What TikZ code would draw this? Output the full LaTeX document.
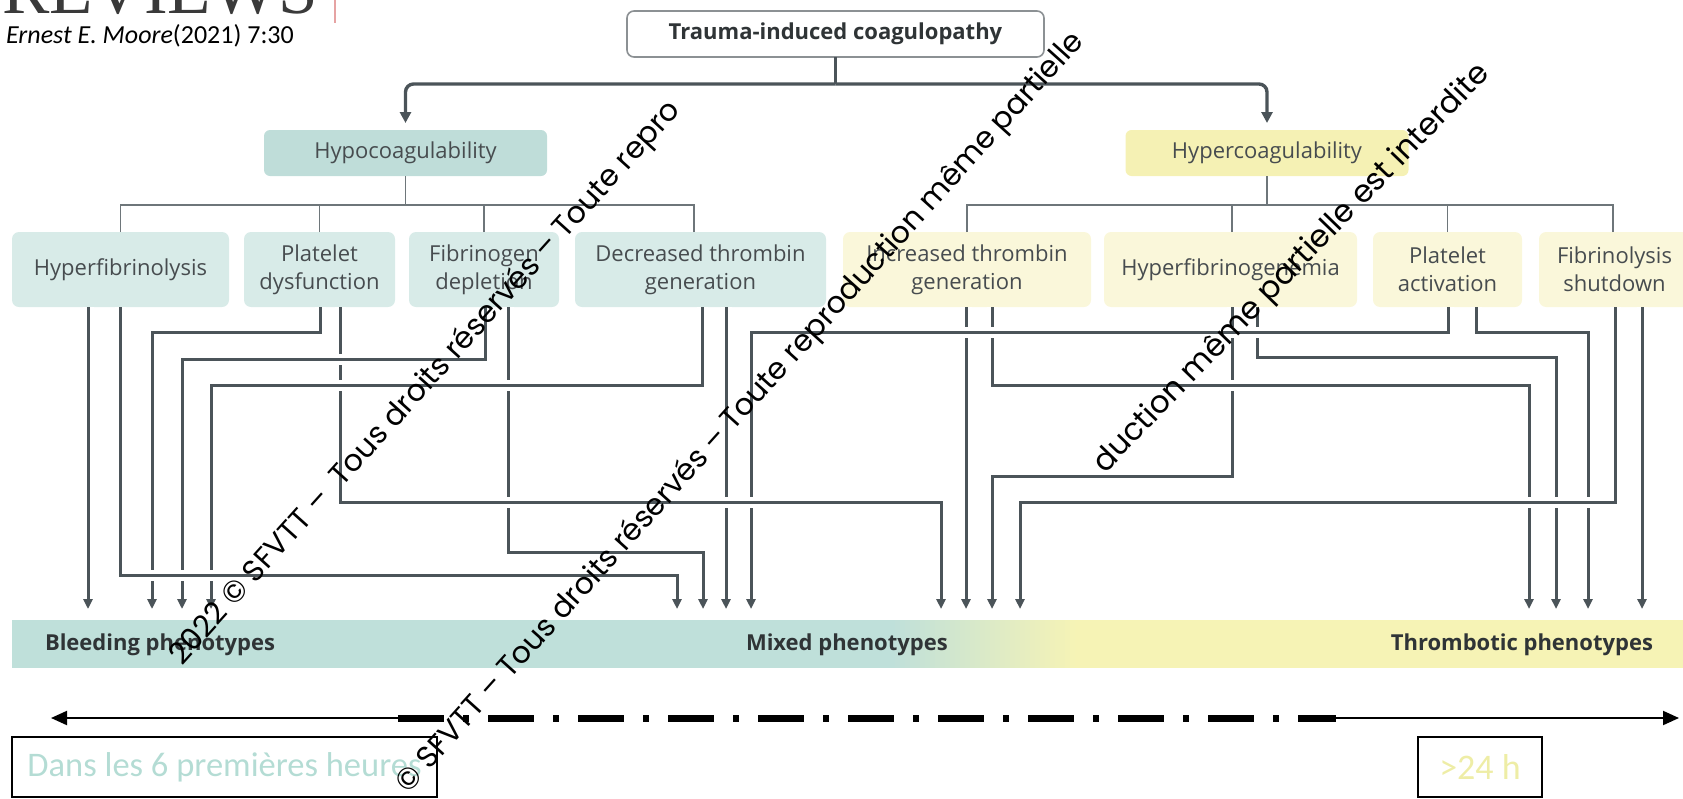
\documentclass[tikz,border=0pt]{standalone}
\usepackage{fontspec}
\setmainfont{Open Sans}
\newfontfamily\calfont{Carlito}
\newfontfamily\wmfont{Poppins}
\newfontfamily\mastfont{Liberation Serif}
\usetikzlibrary{arrows.meta}

\definecolor{ink}{HTML}{4B5459}
\definecolor{treegray}{HTML}{6E767A}
\definecolor{framegray}{HTML}{8C9194}
\definecolor{tealbox}{HTML}{BFDDD9}
\definecolor{teallight}{HTML}{D8EBE8}
\definecolor{yelbox}{HTML}{F5F1B4}
\definecolor{yellight}{HTML}{FAF7DA}
\definecolor{bandteal}{HTML}{BFE0DA}
\definecolor{bandyel}{HTML}{F6F3B5}
\definecolor{boxtext}{HTML}{474C4F}
\definecolor{headtext}{HTML}{2F3436}
\definecolor{earlytext}{HTML}{B4DCD4}
\definecolor{latetext}{HTML}{EEEDA6}
\definecolor{mastgray}{HTML}{3A3A3A}
\definecolor{mastpink}{HTML}{E6A3A3}

\begin{document}
\begin{tikzpicture}[x=1pt,y=-1pt,
  every node/.style={inner sep=0pt,outer sep=0pt},
  titlebox/.style={draw=framegray,line width=1.6pt,fill=white,rounded corners=7pt,
    minimum width=417pt,minimum height=46pt,
    font=\bfseries\fontsize{22}{26}\selectfont,text=headtext},
  groupbox/.style={rounded corners=6pt,minimum width=283pt,minimum height=46pt,
    font=\fontsize{22}{26}\selectfont,text=boxtext},
  hypostyle/.style={groupbox,fill=tealbox},
  hyperstyle/.style={groupbox,fill=yelbox},
  mechbox/.style={rounded corners=7pt,minimum height=75pt,align=center,
    font=\fontsize{22}{28}\selectfont,text=boxtext},
  tealmech/.style={mechbox,fill=teallight},
  yelmech/.style={mechbox,fill=yellight},
  tree/.style={draw=treegray,line width=1.8pt},
  mainline/.style={draw=ink,line width=3.4pt},
  mainarrow/.style={mainline,rounded corners=8pt,shorten >=7pt,
    -{Triangle[length=11pt,width=11pt]}},
  flow/.style={draw=ink,line width=3pt,
    -{Triangle[length=10pt,width=9pt]},
    preaction={draw=white,line width=11pt,-}},
  bandlabel/.style={anchor=base west,font=\bfseries\fontsize{22}{26}\selectfont,text=headtext},
  timeline/.style={draw=black,line width=2pt,-{Triangle[length=16pt,width=14pt]}},
  dashdot/.style={draw=black,line width=7pt,dash pattern=on 46pt off 19pt on 6pt off 19pt},
  timebox/.style={draw=black,line width=2.2pt,minimum height=60pt},
  wm/.style={anchor=base west,rotate=48,font=\wmfont\fontsize{30}{30}\selectfont,text=black}
]
\useasboundingbox (0,0) rectangle (1683,798);
\clip (0,0) rectangle (1683,798);

% masthead
\node[anchor=base west,font=\mastfont\fontsize{71}{71}\selectfont,text=mastgray] (mast) at (2,13) {REVIEWS};
\draw[mastpink,line width=2pt] (335,0) -- (335,23);
\node[anchor=base west,font=\calfont\fontsize{26}{28}\selectfont] (cite) at (6,43)
  {\textit{Ernest E. Moore}(2021) 7:30};

% phenotype band: teal, a soft blend, then yellow
\fill[bandteal] (12,620) rectangle (892,668);
\foreach \i in {0,...,37}{
  \pgfmathsetmacro\pct{100*\i/37}
  \fill[bandyel!\pct!bandteal] ({890+5*\i},620) rectangle ({896+5*\i},668);
}
\fill[bandyel] (1079,620) rectangle (1683,668);
\node[minimum width=1671pt,minimum height=48pt] (band) at (847.5,644) {};
\coordinate (tips) at (0,609);
\node[bandlabel] (bleed) at (45,650) {Bleeding phenotypes};
\node[bandlabel] (mixed) at (746,650) {Mixed phenotypes};
\node[bandlabel,anchor=base east] (thromb) at (1653,650) {Thrombotic phenotypes};

% boxes
\node[titlebox] (tic) at (835.5,34) {Trauma-induced coagulopathy};
\node[hypostyle] (hypo) at (405.5,153) {Hypocoagulability};
\node[hyperstyle] (hyper) at (1267,153) {Hypercoagulability};

\node[tealmech,minimum width=217pt] (hfib) at (120.5,269.5) {Hyperfibrinolysis};
\node[tealmech,minimum width=151pt] (pdys) at (319.5,269.5) {Platelet\\dysfunction};
\node[tealmech,minimum width=150pt] (fdep) at (484,269.5) {Fibrinogen\\depletion};
\node[tealmech,minimum width=251pt] (dthr) at (700.5,269.5) {Decreased thrombin\\generation};
\node[yelmech,minimum width=248pt] (ithr) at (967,269.5) {Increased thrombin\\generation};
\node[yelmech,minimum width=253pt] (hfen) at (1230.5,269.5) {Hyperfibrinogenemia};
\node[yelmech,minimum width=149pt] (pact) at (1447.5,269.5) {Platelet\\activation};
\node[yelmech,minimum width=151pt] (fshut) at (1614.5,269.5) {Fibrinolysis\\shutdown};

% top split
\draw[mainline] (tic.south) -- ++(0,27) coordinate (split);
\draw[mainarrow] (split) -| (hypo.north);
\draw[mainarrow] (split) -| (hyper.north);

% group trees
\path (hypo.south) ++(0,29) coordinate (hypobus);
\path (hyper.south) ++(0,29) coordinate (hyperbus);
\draw[tree] (hypo.south) -- (hypobus);
\draw[tree] (hfib.north) |- (hypobus);
\draw[tree] (pdys.north) |- (hypobus);
\draw[tree] (fdep.north) |- (hypobus);
\draw[tree] (694,0 |- dthr.north) |- (hypobus);
\draw[tree] (hyper.south) -- (hyperbus);
\draw[tree] (ithr.north) |- (hyperbus);
\draw[tree] (1232,0 |- hfen.north) |- (hyperbus);
\draw[tree] (pact.north) |- (hyperbus);
\draw[tree] (1613,0 |- fshut.north) |- (hyperbus);

% mechanism -> phenotype connectors (later ones pass over earlier ones)
\draw[flow] (88,0 |- hfib.south) -- (88,0 |- tips);
\draw[flow] (1642,0 |- fshut.south) -- (1642,0 |- tips);
\draw[flow] (726,0 |- dthr.south) -- (726,0 |- tips);
\draw[flow] (966,0 |- ithr.south) -- (966,0 |- tips);
\draw[flow] (1232,0 |- hfen.south) |- (992,476) -- (992,0 |- tips);
\draw[flow] (1257,0 |- hfen.south) |- (1556,357) -- (1556,0 |- tips);
\draw[flow] (1476,0 |- pact.south) |- (1588,332) -- (1588,0 |- tips);
\draw[flow] (992,0 |- ithr.south) |- (1529,385) -- (1529,0 |- tips);
\draw[flow] (1448,0 |- pact.south) |- (751,332) -- (751,0 |- tips);
\draw[flow] (508,0 |- fdep.south) |- (703,552) -- (703,0 |- tips);
\draw[flow] (340,0 |- pdys.south) |- (941,502) -- (941,0 |- tips);
\draw[flow] (485,0 |- fdep.south) |- (182,359) -- (182,0 |- tips);
\draw[flow] (702,0 |- dthr.south) |- (211,385) -- (211,0 |- tips);
\draw[flow] (320,0 |- pdys.south) |- (152,332) -- (152,0 |- tips);
\draw[flow] (120,0 |- hfib.south) |- (677,575) -- (677,0 |- tips);
\draw[flow] (1615,0 |- fshut.south) |- (1020,502) -- (1020,0 |- tips);

% time axis
\coordinate (axisL) at (51,718);
\coordinate (dashA) at (398,718);
\coordinate (dashB) at (1336,718);
\coordinate (axisR) at (1679,718);
\draw[timeline] (dashA) -- (axisL);
\draw[timeline] (dashB) -- (axisR);
\draw[dashdot] (dashA) -- (dashB);
\node[timebox,minimum width=425pt,text=earlytext,font=\calfont\fontsize{34.5}{36}\selectfont]
  (early) at (224.5,767) {Dans les 6 premières heures};
\node[timebox,minimum width=124pt,text=latetext,font=\calfont\fontsize{36}{38}\selectfont]
  (late) at (1480,767) {>24 h};

% watermark
\node[wm] (wmA) at (182,666) {2022 © SFVTT – \ Tous droits réservés – Toute repro};
\node[wm] (wmB) at (408,794) {© SFVTT – Tous droits réservés – Toute reproduction même partielle};
\node[wm,rotate=-2,font=\wmfont\fontsize{31}{31}\selectfont] (wmC) at (1105,474) {duction même partielle est interdite};
\end{tikzpicture}
\end{document}
